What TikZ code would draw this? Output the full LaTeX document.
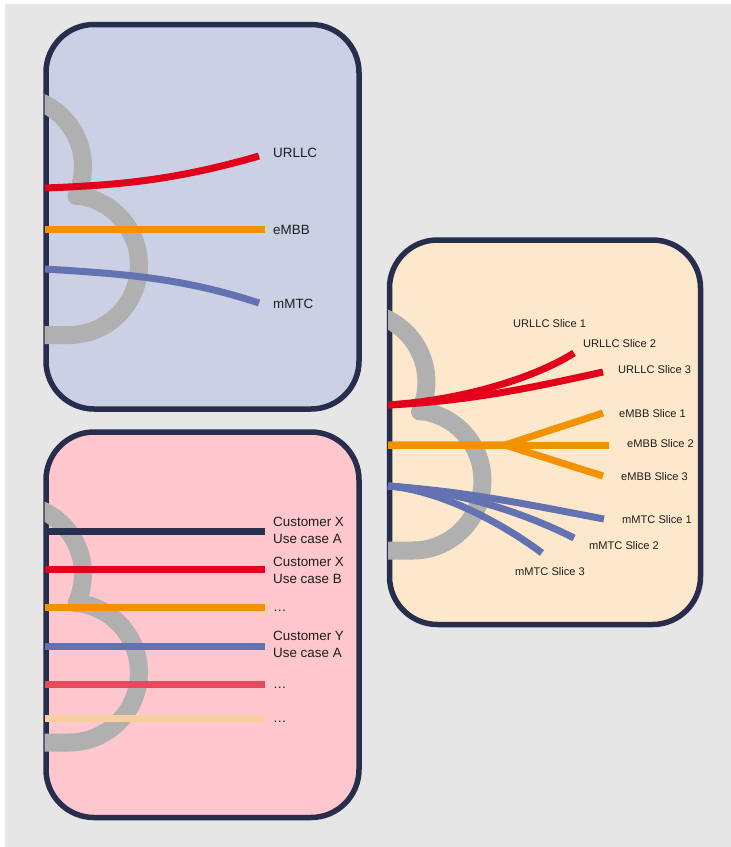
\documentclass[tikz,border=0pt]{standalone}
\usepackage{fontspec}
\setmainfont{Liberation Sans}
\definecolor{bgfill}{HTML}{E6E6E6}
\definecolor{frame}{HTML}{262D4D}
\definecolor{lilac}{HTML}{CBD0E4}
\definecolor{rose}{HTML}{FEC6CD}
\definecolor{cream}{HTML}{FEE8CC}
\definecolor{hookgray}{HTML}{B0B0B0}
\definecolor{urred}{HTML}{E2001A}
\definecolor{emorange}{HTML}{F39200}
\definecolor{mmblue}{HTML}{6372B0}
\definecolor{navyline}{HTML}{28304F}
\definecolor{crimson}{HTML}{E64A5E}
\definecolor{peachline}{HTML}{F7CF9F}
\definecolor{labeltext}{HTML}{1E1E1E}

% gray hook drawn inside a panel whose left/top border centre is (#1,#2)
\newcommand\panelhook[2]{%
  \begin{scope}[shift={(#1,#2)}]
    \clip (-1.5,40) rectangle (130,340);
    \draw[hook] (-6.8,77.1) arc[start angle=-68, end angle=25, radius=70]
      -- (32.7,171.2) arc[start angle=-82, end angle=90, radius=70]
      -- (-6,310.5);
  \end{scope}}

\begin{document}
\begin{tikzpicture}[x=1pt,y=-1pt,
    panel/.style={draw=frame, line width=5.5pt, rounded corners=48pt},
    hook/.style={draw=hookgray, line width=18pt, line join=round},
    flow/.style={line width=7pt},
    biglabel/.style={anchor=west, inner sep=0pt, text=labeltext,
      font=\fontsize{13.4}{17}\selectfont, align=left},
    smalllabel/.style={anchor=west, inner sep=0pt, text=labeltext,
      font=\fontsize{11.1}{13}\selectfont}]
\useasboundingbox (0,0) rectangle (731,847);
\fill[bgfill] (5,4) rectangle (731,847);

% ---------------- panel 1: service types ----------------
\draw[panel, fill=lilac] (46,24.5) rectangle (359,409);
\panelhook{46}{24.5}
\coordinate (a0) at (45,188);  \coordinate (a1) at (259,156);
\coordinate (b0) at (45,229);  \coordinate (b1) at (265,229);
\coordinate (c0) at (45,269);  \coordinate (c1) at (259,303);
\draw[flow, urred] (a0) .. controls (125,185) and (179,179) .. (a1);
\draw[flow, emorange] (b0) -- (b1);
\draw[flow, mmblue] (c0) .. controls (125,274) and (183,278) .. (c1);
\node[biglabel] (lu) at (273,153) {URLLC};
\node[biglabel] (le) at (273,230) {eMBB};
\node[biglabel] (lm) at (273,304) {mMTC};

% ---------------- panel 2: customer use cases ----------------
\draw[panel, fill=rose] (46,432) rectangle (359,817.5);
\panelhook{46}{432}
\foreach \n/\y/\c in {1/531/navyline, 2/569/urred, 3/607/emorange,
                      4/646/mmblue, 5/684/crimson, 6/718/peachline}{
  \coordinate (u\n s) at (45,\y);
  \coordinate (u\n e) at (265,\y);
  \draw[flow, \c] (u\n s) -- (u\n e);
}
\node[biglabel] (cxa) at (273,530.5) {Customer X\\Use case A};
\node[biglabel] (cxb) at (273,570.5) {Customer X\\Use case B};
\node[biglabel] (d1) at (273,610.5) {…};
\node[biglabel] (cya) at (273,644.5) {Customer Y\\Use case A};
\node[biglabel] (d2) at (273,688) {…};
\node[biglabel] (d3) at (273,721.5) {…};

% ---------------- panel 3: slices ----------------
\draw[panel, fill=cream] (389.5,240) rectangle (700.5,624.5);
\panelhook{389.5}{240}
\coordinate (r0) at (388,405);
\coordinate (r2) at (574,353);
\coordinate (r3) at (603,372);
\draw[flow, urred] (r0) .. controls (470,401) and (530,388) .. (r3);
\draw[flow, urred] (r0) .. controls (465,400) and (536,377) .. (r2);

\coordinate (o0) at (388,445);
\coordinate (of) at (505,445);
\coordinate (o1) at (603,413);
\coordinate (o2) at (609,445);
\coordinate (o3) at (603,476);
\draw[flow, emorange] (o0) -- (o2);
\draw[flow, emorange, miter limit=10] (o0) -- (of) -- (o1);
\draw[flow, emorange, miter limit=10] (o0) -- (of) -- (o3);

\coordinate (m0) at (388,486);
\coordinate (m1) at (604,519);
\coordinate (m2) at (574,538);
\coordinate (m3) at (542,553);
\draw[flow, mmblue] (m0) .. controls (470,492) and (530,505) .. (m1);
\draw[flow, mmblue] (m0) .. controls (450,490) and (519,510) .. (m2);
\draw[flow, mmblue] (m0) .. controls (440,490) and (502,523) .. (m3);

\node[smalllabel] (us1) at (513,324) {URLLC Slice 1};
\node[smalllabel] (us2) at (583,344) {URLLC Slice 2};
\node[smalllabel] (us3) at (618,370) {URLLC Slice 3};
\node[smalllabel] (es1) at (619,414) {eMBB Slice 1};
\node[smalllabel] (es2) at (627,444) {eMBB Slice 2};
\node[smalllabel] (es3) at (621,477) {eMBB Slice 3};
\node[smalllabel] (ms1) at (622,520) {mMTC Slice 1};
\node[smalllabel] (ms2) at (589,546) {mMTC Slice 2};
\node[smalllabel] (ms3) at (515,572) {mMTC Slice 3};
\end{tikzpicture}
\end{document}
